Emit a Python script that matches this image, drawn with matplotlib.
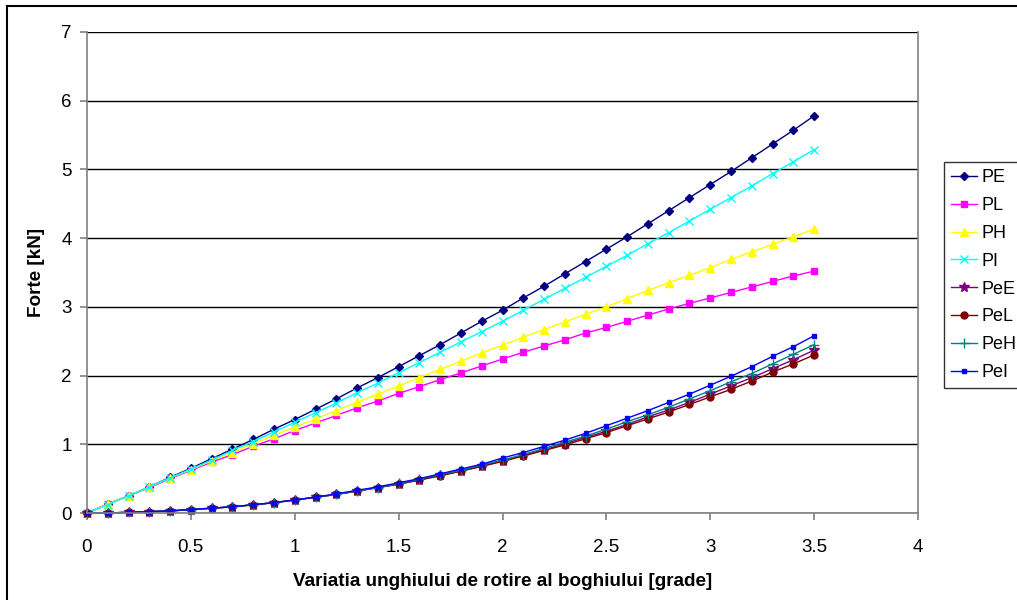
import matplotlib
matplotlib.use("Agg")
import matplotlib.pyplot as plt
from matplotlib.lines import Line2D

plt.rcParams['font.family'] = ['Liberation Sans', 'DejaVu Sans']

# Rotation angle of the bogie [degrees]
unghi = [0.0, 0.1, 0.2, 0.3, 0.4, 0.5, 0.6, 0.7, 0.8, 0.9,
         1.0, 1.1, 1.2, 1.3, 1.4, 1.5, 1.6, 1.7, 1.8, 1.9,
         2.0, 2.1, 2.2, 2.3, 2.4, 2.5, 2.6, 2.7, 2.8, 2.9,
         3.0, 3.1, 3.2, 3.3, 3.4, 3.5]

# Forces [kN]
PE = [0.00, 0.13, 0.25, 0.38, 0.52, 0.65, 0.79, 0.93, 1.07, 1.22,
      1.36, 1.51, 1.66, 1.82, 1.97, 2.13, 2.29, 2.45, 2.62, 2.79,
      2.95, 3.13, 3.30, 3.48, 3.66, 3.84, 4.02, 4.21, 4.40, 4.59,
      4.78, 4.97, 5.17, 5.37, 5.57, 5.78]
PL = [0.00, 0.13, 0.25, 0.37, 0.50, 0.62, 0.74, 0.85, 0.97, 1.08,
      1.20, 1.31, 1.42, 1.53, 1.63, 1.74, 1.84, 1.94, 2.04, 2.14,
      2.24, 2.34, 2.43, 2.52, 2.62, 2.70, 2.79, 2.88, 2.97, 3.05,
      3.13, 3.21, 3.29, 3.37, 3.45, 3.52]
PH = [0.00, 0.13, 0.25, 0.38, 0.51, 0.63, 0.76, 0.88, 1.01, 1.13,
      1.25, 1.37, 1.49, 1.61, 1.73, 1.85, 1.97, 2.09, 2.21, 2.33,
      2.44, 2.56, 2.67, 2.78, 2.89, 3.00, 3.12, 3.24, 3.35, 3.46,
      3.57, 3.69, 3.80, 3.91, 4.02, 4.13]
PI = [0.00, 0.12, 0.25, 0.38, 0.51, 0.64, 0.77, 0.91, 1.04, 1.18,
      1.32, 1.46, 1.60, 1.75, 1.89, 2.04, 2.19, 2.34, 2.49, 2.64,
      2.79, 2.95, 3.11, 3.27, 3.43, 3.59, 3.75, 3.92, 4.08, 4.25,
      4.42, 4.59, 4.76, 4.94, 5.11, 5.29]
PeE = [0.00, 0.00, 0.01, 0.02, 0.03, 0.05, 0.07, 0.09, 0.12, 0.15,
       0.19, 0.23, 0.27, 0.32, 0.37, 0.42, 0.48, 0.55, 0.61, 0.68,
       0.76, 0.84, 0.92, 1.01, 1.10, 1.19, 1.29, 1.40, 1.50, 1.61,
       1.73, 1.85, 1.97, 2.10, 2.23, 2.37]
PeL = [0.00, 0.00, 0.01, 0.02, 0.03, 0.05, 0.07, 0.09, 0.12, 0.15,
       0.19, 0.23, 0.27, 0.32, 0.37, 0.42, 0.48, 0.54, 0.61, 0.68,
       0.75, 0.83, 0.91, 0.99, 1.08, 1.17, 1.27, 1.37, 1.47, 1.58,
       1.69, 1.80, 1.92, 2.05, 2.17, 2.30]
PeH = [0.00, 0.00, 0.01, 0.02, 0.03, 0.05, 0.07, 0.09, 0.12, 0.15,
       0.19, 0.23, 0.27, 0.32, 0.37, 0.43, 0.49, 0.56, 0.62, 0.70,
       0.77, 0.85, 0.94, 1.03, 1.12, 1.22, 1.33, 1.43, 1.54, 1.66,
       1.78, 1.91, 2.03, 2.17, 2.31, 2.45]
PeI = [0.00, 0.00, 0.01, 0.02, 0.03, 0.05, 0.07, 0.09, 0.12, 0.15,
       0.19, 0.23, 0.28, 0.33, 0.38, 0.44, 0.50, 0.57, 0.64, 0.71,
       0.80, 0.88, 0.97, 1.06, 1.16, 1.27, 1.38, 1.49, 1.61, 1.73,
       1.86, 1.99, 2.13, 2.28, 2.42, 2.58]

serii = [
    ("PE", PE, "#000080", "D", 4.5),
    ("PL", PL, "#FF00FF", "s", 5),
    ("PH", PH, "#FFFF00", "^", 6),
    ("PI", PI, "#00FFFF", "x", 6),
    ("PeE", PeE, "#800080", "*", 7),
    ("PeL", PeL, "#800000", "o", 5),
    ("PeH", PeH, "#008080", "+", 7),
    ("PeI", PeI, "#0000FF", "s", 2.5),
]

fig = plt.figure(figsize=(10.17, 6.0), dpi=100)
ax = fig.add_axes([87 / 1017, 87 / 600, (918 - 87) / 1017, (513 - 32) / 600])

handles = []
for nume, vals, col, mk, ms in serii:
    ln, = ax.plot(unghi, vals, color=col, marker=mk, markersize=ms,
                  linewidth=1.0, markeredgewidth=1.0, label=nume,
                  clip_on=False)
    handles.append(ln)

ax.set_xlim(0, 4)
ax.set_ylim(0, 7)
ax.set_xticks([0, 0.5, 1, 1.5, 2, 2.5, 3, 3.5, 4])
ax.set_xticklabels(["0", "0.5", "1", "1.5", "2", "2.5", "3", "3.5", "4"])
ax.set_yticks(range(0, 8))

ax.yaxis.grid(True, color="#000000", linewidth=1.0)
ax.set_axisbelow(True)
for s in ax.spines.values():
    s.set_color("#808080")
    s.set_linewidth(1.2)
ax.spines["top"].set_visible(False)

ax.tick_params(axis="both", direction="out", length=5, width=1.2,
               color="#808080", labelsize=13.5, pad=6)
ax.tick_params(axis="x", pad=14)

ax.set_xlabel("Variatia unghiului de rotire al boghiului [grade]",
              fontsize=13.6, fontweight="bold", labelpad=12)
ax.set_ylabel("Forte [kN]", fontsize=13.6, fontweight="bold", labelpad=12)

leg = fig.legend(handles=handles, loc="upper left",
                 bbox_to_anchor=(944 / 1017, 1 - 162 / 600),
                 fontsize=13, frameon=True, fancybox=False,
                 borderpad=0.4, labelspacing=0.6, handlelength=1.4,
                 handletextpad=0.25, borderaxespad=0)
leg.get_frame().set_edgecolor("#000000")
leg.get_frame().set_linewidth(1.0)

# chart frame
fig.add_artist(Line2D([7 / 1017, 1.0], [1 - 6 / 600, 1 - 6 / 600],
                      transform=fig.transFigure, color="#000000", linewidth=1.5))
fig.add_artist(Line2D([7 / 1017, 7 / 1017], [0, 1 - 6 / 600],
                      transform=fig.transFigure, color="#000000", linewidth=1.5))

fig.savefig("out.png", dpi=100)
